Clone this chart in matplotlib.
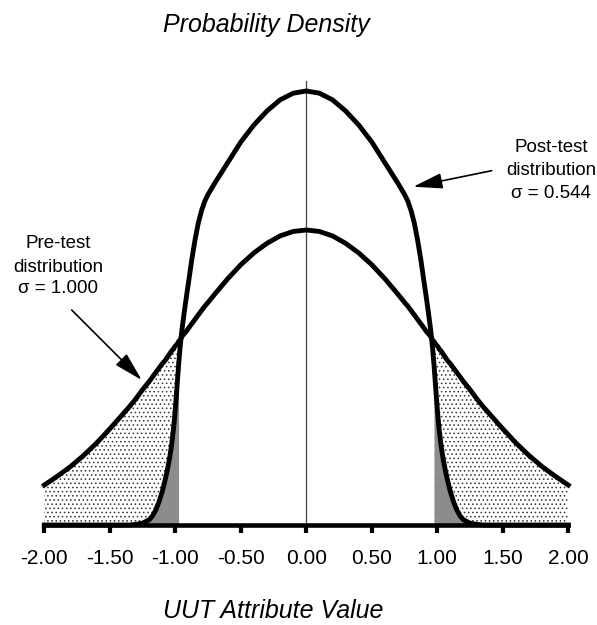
import numpy as np
import matplotlib
matplotlib.use("Agg")
import matplotlib.pyplot as plt

plt.rcParams['font.family'] = ['Liberation Sans', 'DejaVu Sans']
plt.rcParams['hatch.linewidth'] = 0.6

# ---- data (positive half; mirrored for x<0) ----
x_half = [0.0, 0.1, 0.2, 0.3, 0.4, 0.5, 0.6, 0.7, 0.75, 0.775, 0.8, 0.825,
          0.85, 0.875, 0.9, 0.915, 0.93, 0.945, 0.955, 0.965, 0.975, 0.985,
          0.995, 1.005, 1.015, 1.03, 1.045, 1.06, 1.08, 1.1, 1.125, 1.15,
          1.175, 1.2, 1.25, 1.3, 1.35, 1.4, 1.5, 1.6, 1.7, 1.8, 1.9, 2.0]
pre_half = [0.399, 0.397, 0.391, 0.381, 0.368, 0.352, 0.333, 0.312, 0.301,
            0.296, 0.290, 0.284, 0.278, 0.272, 0.266, 0.262, 0.259, 0.256,
            0.253, 0.250, 0.248, 0.245, 0.243, 0.241, 0.238, 0.235, 0.231,
            0.227, 0.222, 0.218, 0.212, 0.206, 0.200, 0.194, 0.183, 0.171,
            0.160, 0.150, 0.130, 0.111, 0.094, 0.079, 0.066, 0.054]
post_half = [0.587, 0.584, 0.575, 0.560, 0.541, 0.518, 0.490, 0.462, 0.447,
             0.438, 0.425, 0.408, 0.385, 0.358, 0.327, 0.309, 0.290, 0.270,
             0.255, 0.237, 0.216, 0.192, 0.168, 0.146, 0.128, 0.106, 0.089,
             0.075, 0.059, 0.045, 0.031, 0.020, 0.012, 0.007, 0.0025, 0.0008,
             0.0, 0.0, 0.0, 0.0, 0.0, 0.0, 0.0, 0.0]
limit = 0.975

tick_vals = [-2.0, -1.5, -1.0, -0.5, 0.0, 0.5, 1.0, 1.5, 2.0]
tick_labels = ["-2.00", "-1.50", "-1.00", "-0.50", "0.00", "0.50", "1.00", "1.50", "2.00"]

title_text = "Probability Density"
xlabel_text = "UUT Attribute Value"
pre_label = ["Pre-test", "distribution", "\u03c3 = 1.000"]
post_label = ["Post-test", "distribution", "\u03c3 = 0.544"]

# mirror
xh = np.array(x_half)
x = np.concatenate([-xh[:0:-1], xh])
pre = np.concatenate([np.array(pre_half)[:0:-1], pre_half])
post = np.concatenate([np.array(post_half)[:0:-1], post_half])

W, H = 597, 625
fig = plt.figure(figsize=(W / 100, H / 100), dpi=100)
ax = fig.add_axes([44.3 / W, (H - 525) / H, 524 / W, 444 / H])
ax.set_xlim(-2.0, 2.0)
ax.set_ylim(0, 0.6005)

outer_left = x <= -limit
outer_right = x >= limit
for m in (outer_left, outer_right):
    ax.fill_between(x[m], 0, pre[m], facecolor='white', edgecolor='#333333',
                    hatch='....', linewidth=0, zorder=1)
    ax.fill_between(x[m], 0, post[m], facecolor='#8c8c8c', edgecolor='#8c8c8c',
                    linewidth=0, zorder=2)

ax.axvline(0, color='#444444', lw=0.9, zorder=1.5)
ax.plot(x, pre, color='black', lw=3.5, zorder=4, clip_on=False,
        solid_joinstyle='round')
ax.plot(x, post, color='black', lw=3.5, zorder=4, clip_on=False,
        solid_joinstyle='round')

for s in ('left', 'right', 'top'):
    ax.spines[s].set_visible(False)
ax.spines['bottom'].set_linewidth(3.3)
ax.spines['bottom'].set_zorder(5)
ax.set_yticks([])
ax.set_xticks(tick_vals)
ax.set_xticklabels(tick_labels, fontsize=15)
ax.tick_params(axis='x', direction='out', length=6, width=3, pad=11)

def ftext(px, py, s, **kw):
    fig.text(px / W, 1 - py / H, s, **kw)

ftext(266, 32.3, title_text, fontsize=18, style='italic', ha='center', va='baseline')
ftext(273.5, 618, xlabel_text, fontsize=18, style='italic', ha='center', va='baseline')

for s, yb in zip(post_label, [151.7, 175, 198.3]):
    ftext(551, yb, s, fontsize=13.5, ha='center', va='baseline')
for s, yb in zip(pre_label, [248.3, 271.7, 293.3]):
    ftext(58, yb, s, fontsize=13.5, ha='center', va='baseline')

arrow_kw = dict(arrowstyle='-|>,head_length=0.9,head_width=0.24', mutation_scale=20,
                lw=1.2, color='black', shrinkA=0, shrinkB=0)
ax.annotate('', xy=(413.3, H - 186.7), xytext=(491.7, H - 170.7),
            xycoords='figure pixels', textcoords='figure pixels', arrowprops=arrow_kw)
ax.annotate('', xy=(141.7, H - 380), xytext=(71.7, H - 310),
            xycoords='figure pixels', textcoords='figure pixels', arrowprops=arrow_kw)

fig.savefig('out.png', dpi=100)
